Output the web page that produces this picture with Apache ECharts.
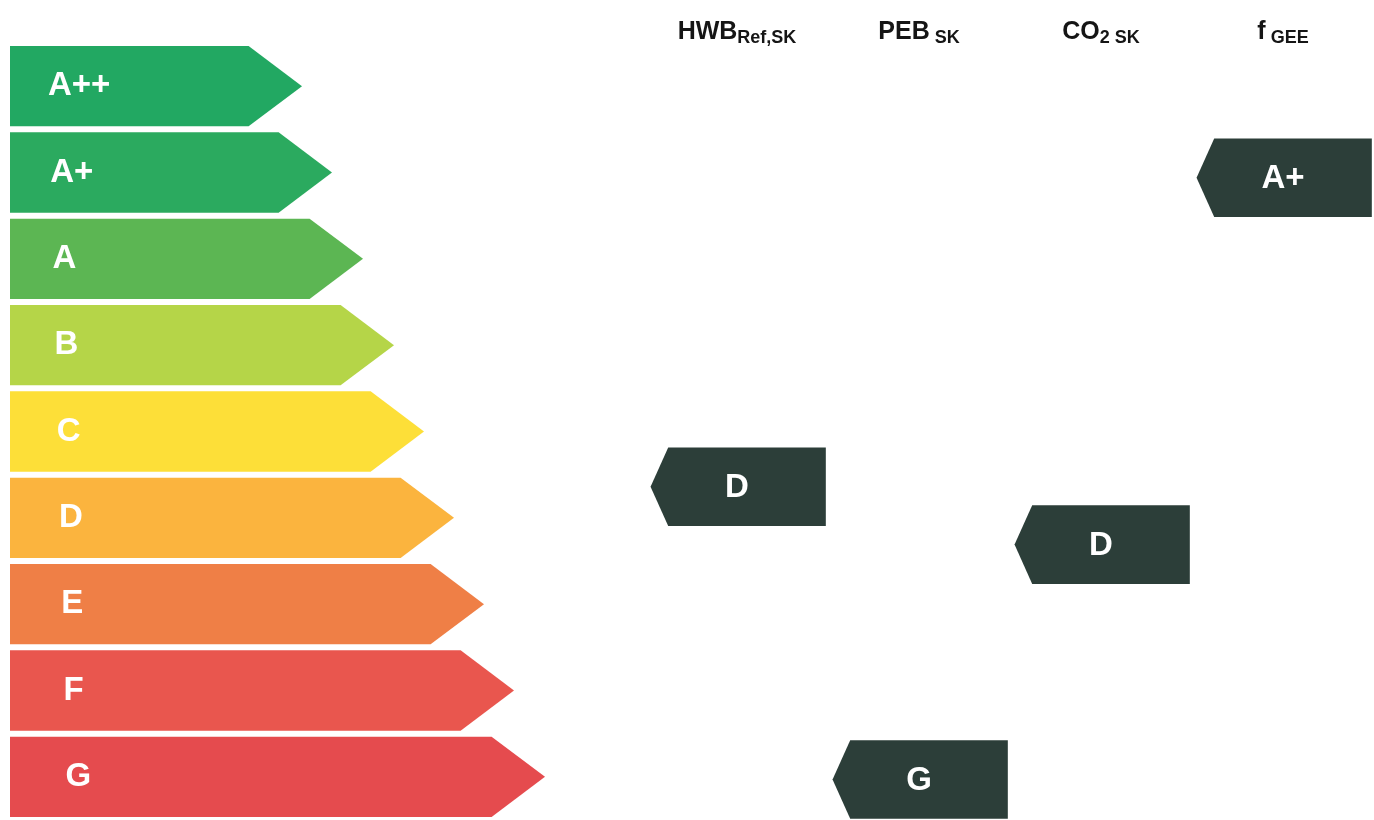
<!DOCTYPE html>
<html><head><meta charset="utf-8">
<script src="https://cdn.jsdelivr.net/npm/echarts@6/dist/echarts.min.js"></script>
<style>html,body{margin:0;padding:0;background:#fff}#c{width:1374px;height:820px}</style>
</head><body><div id="c"></div>
<script>
// Energy classes (scale on the left)
const classes = ['A++', 'A+', 'A', 'B', 'C', 'D', 'E', 'F', 'G'];
const classArrowEnd = [302, 332, 363, 394, 424, 454, 484, 514, 545];
const classColors = ['#22a862', '#2baa5f', '#5cb653', '#b5d548', '#fddf38', '#fbb43e', '#ef7f46', '#e9564e', '#e54b4e'];

// Indicators (columns) and their ratings
const indicatorHeaders = ['HWB{s|Ref,SK}', 'PEB{s| SK}', 'CO{s|2 SK}', 'f{s| GEE}'];
const ratingLabels = ['D', 'G', 'D', 'A+'];
const ratingPositions = [4.64, 8.03, 5.31, 1.06];

const FONT = "'Liberation Sans Narrow', 'Liberation Sans', Arial, sans-serif";
const FONT2 = "'Liberation Sans', Arial, sans-serif";

const chart = echarts.init(document.getElementById('c'));

const yAx = { type: 'value', min: -0.5, max: 8.5, inverse: true, show: false };

chart.setOption({
  animation: false,
  backgroundColor: '#ffffff',
  grid: [
    { left: 0, width: 1374, top: 43, height: 789 },
    { left: 646, width: 732, top: 43, height: 789 }
  ],
  xAxis: [
    { type: 'value', min: 0, max: 1374, show: false, gridIndex: 0 },
    {
      type: 'category', gridIndex: 1, position: 'top',
      data: indicatorHeaders,
      axisLine: { show: false }, axisTick: { show: false }, splitLine: { show: false },
      axisLabel: {
        interval: 0, hideOverlap: false,
        margin: -4, color: '#151515', fontFamily: FONT, fontWeight: 'bold', fontSize: 25, lineHeight: 30,
        rich: { s: { fontFamily: FONT, fontWeight: 'bold', fontSize: 18, lineHeight: 14, verticalAlign: 'bottom', color: '#151515' } }
      }
    }
  ],
  yAxis: [Object.assign({ gridIndex: 0 }, yAx), Object.assign({ gridIndex: 1 }, yAx)],
  series: [
    {
      type: 'custom', xAxisIndex: 0, yAxisIndex: 0,
      data: classes.map((c, i) => [i, classArrowEnd[i], c]),
      encode: { x: 1, y: 0 },
      renderItem: function (params, api) {
        const i = api.value(0), end = api.value(1);
        const pitch = api.size([0, 1])[1];
        const hh = pitch * 0.93 / 2;
        const p0 = api.coord([10, i]);
        const pt = api.coord([end, i]);
        const depth = hh * 1.33;
        const cy = p0[1];
        return {
          type: 'group',
          children: [
            {
              type: 'polygon',
              shape: { points: [[p0[0], cy - hh], [pt[0] - depth, cy - hh], [pt[0], cy], [pt[0] - depth, cy + hh], [p0[0], cy + hh]] },
              style: { fill: classColors[params.dataIndex] }
            },
            {
              type: 'text',
              style: {
                text: classes[params.dataIndex], x: p0[0] + 38 + i * 2.2, y: cy,
                fill: '#ffffff', font: 'bold 33px ' + FONT2, verticalAlign: 'middle', align: 'left'
              }
            }
          ]
        };
      }
    },
    {
      type: 'custom', xAxisIndex: 1, yAxisIndex: 1,
      data: ratingLabels.map((l, k) => [k, ratingPositions[k], l]),
      encode: { x: 0, y: 1 },
      renderItem: function (params, api) {
        const k = api.value(0), pos = api.value(1);
        const c = api.coord([k, pos]);
        const bw = api.size([1, 0])[0];
        const pitch = api.size([0, 1])[1];
        const hh = pitch * 0.91 / 2;
        const left = c[0] - 0.378 * bw, right = c[0] + 0.488 * bw, tip = c[0] - 0.475 * bw;
        return {
          type: 'group',
          children: [
            {
              type: 'polygon',
              shape: { points: [[tip, c[1]], [left, c[1] - hh], [right, c[1] - hh], [right, c[1] + hh], [left, c[1] + hh]] },
              style: { fill: '#2c3e39' }
            },
            {
              type: 'text',
              style: {
                text: ratingLabels[params.dataIndex], x: c[0], y: c[1] + 1,
                fill: '#ffffff', font: 'bold 33px ' + FONT2, verticalAlign: 'middle', align: 'center'
              }
            }
          ]
        };
      }
    }
  ]
});
</script>
</body></html>
